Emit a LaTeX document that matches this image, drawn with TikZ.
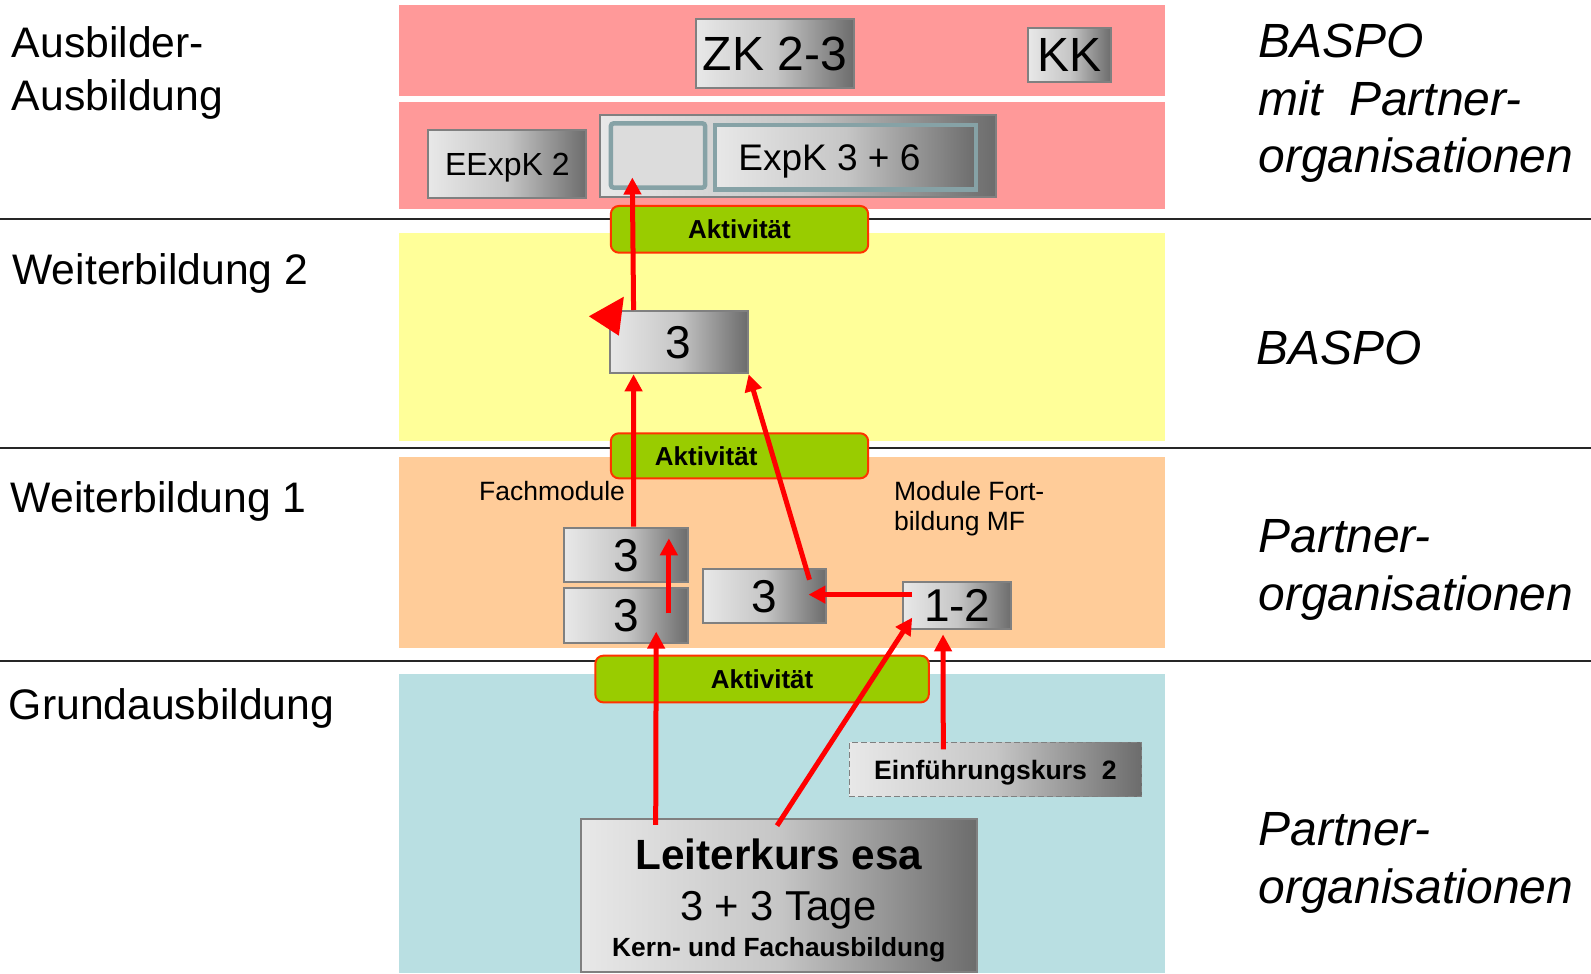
\documentclass[tikz,border=0pt]{standalone}
\usepackage{fontspec}
\setmainfont{Liberation Sans}
\usetikzlibrary{arrows.meta,fit,calc}
\definecolor{pinkband}{HTML}{FF9999}
\definecolor{yellowband}{HTML}{FFFF99}
\definecolor{peachband}{HTML}{FFCC99}
\definecolor{blueband}{HTML}{B9DFE2}
\definecolor{aktgreen}{HTML}{99CC00}
\definecolor{aktborder}{HTML}{FF3300}
\definecolor{arrred}{HTML}{FF0000}
\definecolor{boxborder}{HTML}{808080}
\definecolor{tealborder}{HTML}{86A2A6}
\definecolor{gl}{HTML}{E8E8E8}
\definecolor{gm}{HTML}{C6C6C6}
\definecolor{gd}{HTML}{6C6C6C}
\begin{document}
\begin{tikzpicture}[x=1.0147pt,y=-1.0147pt,
  lab/.style={anchor=base west, inner sep=0pt, font=\fontsize{42.7}{50}\selectfont},
  rlab/.style={anchor=base west, inner sep=0pt, font=\fontsize{48}{56}\selectfont\itshape},
  small/.style={anchor=base west, inner sep=0pt, font=\fontsize{26.5}{31}\selectfont},
  sepline/.style={draw=black!85, line width=2pt},
  gbox/.style={draw=boxborder, line width=2pt, left color=gl, right color=gd, middle color=gm, inner sep=0pt},
  tbox/.style={gbox, draw=tealborder, line width=4.5pt},
  emptybox/.style={draw=tealborder, fill=gl!95!black, line width=4.5pt, rounded corners=3pt, inner sep=0pt},
  akt/.style={draw=aktborder, fill=aktgreen, line width=2pt, rounded corners=8pt, inner sep=0pt},
  btext/.style={inner sep=0pt, text depth=0pt, anchor=center},
  akttext/.style={btext, font=\fontsize{26}{31}\selectfont\bfseries},
  digit/.style={btext, font=\fontsize{46}{55}\selectfont},
  arr/.style={draw=arrred, line width=5pt, -{Triangle[width=17pt,length=17pt]}}
]
\useasboundingbox (0,0) rectangle (1568,959);
% bands
\fill[pinkband] (393,5) rectangle (1148,94.6);
\fill[pinkband] (393,100.2) rectangle (1148,206);
\fill[yellowband] (393,229.3) rectangle (1148,434.3);
\fill[peachband] (393,450) rectangle (1148,639);
\fill[blueband] (393,664.6) rectangle (1148,959);
% separators
\draw[sepline] (0,215.8) -- (1568,215.8);
\draw[sepline] (0,441.8) -- (1568,441.8);
\draw[sepline] (0,651.1) -- (1568,651.1);
% left labels
\node[lab] (l1a) at (11.5,57) {Ausbilder-};
\node[lab] (l1b) at (11.5,109) {Ausbildung};
\node[lab] (l2) at (12,280) {Weiterbildung 2};
\node[lab] (l3) at (10.5,505) {Weiterbildung 1};
\node[lab] (l4) at (8.5,709.5) {Grundausbildung};
% right labels
\node[rlab] (r1a) at (1240,57) {BASPO};
\node[rlab] (r1b) at (1240,114) {mit\ \ Partner-};
\node[rlab] (r1c) at (1240,170) {organisationen};
\node[rlab] (r2) at (1238,359) {BASPO};
\node[rlab] (r3a) at (1240,544.5) {Partner-};
\node[rlab] (r3b) at (1240,601.5) {organisationen};
\node[rlab] (r4a) at (1240,833) {Partner-};
\node[rlab] (r4b) at (1240,890) {organisationen};
% top boxes
\node[gbox, fit={(686,18.7)(841.6,86.4)}] (zk) {};
\node[btext, font=\fontsize{48}{56}\selectfont] (zkt) at (zk) {ZK 2-3};
\node[gbox, fit={(1013.6,27.3)(1095,81.1)}] (kk) {};
\node[btext, font=\fontsize{48}{56}\selectfont] (kkt) at (kk) {KK};
\node[gbox, fit={(422,128)(578,195)}] (eexpk) {};
\node[btext, font=\fontsize{32}{38}\selectfont] (eexpkt) at (eexpk) {EExpK 2};
\node[gbox, fit={(591.5,113.3)(982,193.8)}] (expcont) {};
\node[emptybox, fit={(602,121.5)(695,185)}] (empty) {};
\node[tbox, fit={(704.7,123)(962,187)}] (expk) {};
\node[btext, font=\fontsize{37}{44}\selectfont] (expkt) at ($(expk.center)+(-16,0)$) {ExpK 3 + 6};
% activity boxes
\node[akt, fit={(602,203)(855.6,249)}] (akt1) {};
\node[akttext] (akt1t) at (akt1) {Aktivität};
\node[akt, fit={(602,427)(855.6,471.4)}] (akt2) {};
\node[akttext] (akt2t) at ($(akt2.center)+(-32.8,0)$) {Aktivität};
\node[akt, fit={(586.7,646.2)(915.4,692.2)}] (akt3) {};
\node[akttext] (akt3t) at (akt3) {Aktivität};
% Weiterbildung boxes
\node[gbox, fit={(600.7,306.5)(736.8,367.9)}] (w2) {};
\node[digit] (w2t) at (w2) {3};
\node[small] (fachmod) at (472,493.7) {Fachmodule};
\node[small] (mfa) at (881,493.7) {Module Fort-};
\node[small] (mfb) at (881,523) {bildung MF};
\node[gbox, fit={(556.2,520)(678,573.9)}] (fm1) {};
\node[digit] (fm1t) at (fm1) {3};
\node[gbox, fit={(556.2,579.8)(678,633.4)}] (fm2) {};
\node[digit] (fm2t) at (fm2) {3};
\node[gbox, fit={(692.7,561)(813.8,614.3)}] (mid) {};
\node[digit] (midt) at (mid) {3};
\node[gbox, fit={(890.2,573.2)(996.7,620.2)}] (mf) {};
\node[digit] (mft) at (mf) {1-2};
% Grundausbildung boxes
\node[gbox, draw=gray, line width=1.5pt, dash pattern=on 6pt off 3pt, fit={(837,731.9)(1125,785.2)}] (ek) {};
\node[btext, font=\fontsize{26.6}{31}\selectfont\bfseries] (ekt) at (ek) {Einführungskurs\ \ 2};
\node[gbox, fit={(572.2,807.5)(962.9,957.6)}] (lk) {};
\node[anchor=base, inner sep=0pt, font=\fontsize{42.3}{50}\selectfont\bfseries] (lk1) at (767.5,856.7) {Leiterkurs esa};
\node[anchor=base, inner sep=0pt, font=\fontsize{41.8}{49}\selectfont] (lk2) at (767,906.7) {3 + 3 Tage};
\node[anchor=base, inner sep=0pt, font=\fontsize{26.3}{31}\selectfont\bfseries] (lk3) at (767.5,942.2) {Kern- und Fachausbildung};
% arrows
\draw[arr] ($(w2.north west)+(24.7,0)$) -- ($(empty.south west)+(23.4,-12.3)$);
\fill[arrred] ($(w2.north west)+(-19.3,6.2)$) -- ($(w2.north west)+(15.1,-13.1)$) -- ($(w2.north west)+(10.2,25.3)$) -- cycle;
\draw[arr] ($(fm1.north west)+(69.2,0)$) -- ($(w2.south west)+(24.7,0)$);
\draw[arr] ($(lk.north west)+(75,6.5)$) -- ($(fm2.south west)+(91.5,-11.9)$);
\draw[arr] ($(fm2.north west)+(104,25.6)$) -- ($(fm1.north west)+(104,11.5)$);
\draw[arr] ($(mid.north east)+(-17,11.3)$) -- (w2.south east);
\draw[arr] ($(mf.north west)+(9.8,13.8)$) -- ($(mid.north east)+(-18,26)$);
\draw[arr] ($(lk.north west)+(194.6,7.2)$) -- ($(mf.south west)+(9.8,-12.5)$);
\draw[arr] ($(ek.north west)+(93.4,7.3)$) -- ($(mf.south west)+(40.2,4)$);
\end{tikzpicture}
\end{document}
